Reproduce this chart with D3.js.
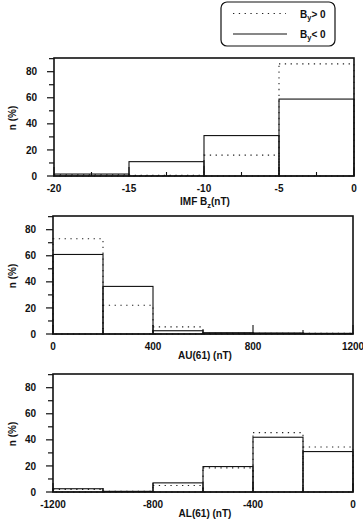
<!DOCTYPE html>
<html>
<head>
<meta charset="utf-8">
<script src="https://cdn.jsdelivr.net/npm/d3@7"></script>
<style>
  body { margin: 0; background: #fff; }
  svg text { font-family: "Liberation Sans", Arial, sans-serif; font-weight: bold; font-size: 10px; fill: #111; }
</style>
</head>
<body>
<div id="chart"></div>
<script>
// histogram data (n %) per bin
var bzEdges = [-20, -15, -10, -5, 0]
var bzPos = [1, 0.5, 16, 86]
var bzNeg = [1.5, 11, 31, 59]
var bzTicks = [-20, -15, -10, -5, 0]

var auEdges = [0, 200, 400, 600, 800, 1000, 1200]
var auPos = [73, 22, 5.5, 0.5, 0.5, 0.5]
var auNeg = [61, 36.5, 2.5, 1, 0.8, 0.5]
var auTicks = [0, 400, 800, 1200]

var alEdges = [-1200, -1000, -800, -600, -400, -200, 0]
var alPos = [2, 0.5, 5, 18.5, 45.5, 34.5]
var alNeg = [2.5, 0.5, 7, 19.5, 42, 31]
var alTicks = [-1200, -800, -400, 0]

var yTicks = [0, 20, 40, 60, 80]

var width = 363, height = 523

var svg = d3.select('#chart').append('svg')
  .attr('width', width)
  .attr('height', height)

// panels
var panels = [
  { edges: bzEdges, pos: bzPos, neg: bzNeg, ticks: bzTicks, minor: 2.5, x0: 54, x1: 354, top: 58, bottom: 176, title: ['IMF B', 'z', '(nT)'] },
  { edges: auEdges, pos: auPos, neg: auNeg, ticks: auTicks, minor: 200, x0: 53, x1: 353, top: 216, bottom: 334, title: ['AU(61) (nT)'] },
  { edges: alEdges, pos: alPos, neg: alNeg, ticks: alTicks, minor: 200, x0: 53, x1: 353, top: 374, bottom: 492, title: ['AL(61) (nT)'] }
]

panels.forEach(function(p) {
  var x = d3.scaleLinear()
    .domain([p.edges[0], p.edges[p.edges.length - 1]])
    .range([p.x0, p.x1])
  var y = d3.scaleLinear().domain([0, 90.5]).range([p.bottom, p.top])
  var g = svg.append('g')

  var bins = p.edges.slice(0, -1).map(function(e, i) { return { a: e, b: p.edges[i + 1], pos: p.pos[i], neg: p.neg[i] } })

  // By > 0 dotted
  g.selectAll('.pos').data(bins).enter().append('rect')
    .attr('x', function(d) { return x(d.a) })
    .attr('width', function(d) { return x(d.b) - x(d.a) })
    .attr('y', function(d) { return y(d.pos) })
    .attr('height', function(d) { return y(0) - y(d.pos) })
    .attr('fill', 'none')
    .attr('stroke', '#222')
    .attr('stroke-width', 1.1)
    .attr('stroke-dasharray', '1.3,4.5')

  // By < 0 solid
  g.selectAll('.neg').data(bins).enter().append('rect')
    .attr('x', function(d) { return x(d.a) })
    .attr('width', function(d) { return x(d.b) - x(d.a) })
    .attr('y', function(d) { return y(d.neg) })
    .attr('height', function(d) { return y(0) - y(d.neg) })
    .attr('fill', 'none')
    .attr('stroke', '#111')
    .attr('stroke-width', 1.1)

  // frame
  g.append('rect')
    .attr('x', p.x0).attr('y', p.top)
    .attr('width', p.x1 - p.x0).attr('height', p.bottom - p.top)
    .attr('fill', 'none').attr('stroke', '#111').attr('stroke-width', 1.6)

  // y ticks, outward
  d3.range(0, 91, 10).forEach(function(v) {
    var major = v % 20 === 0
    g.append('line')
      .attr('x1', p.x0 - (major ? 7 : 5)).attr('x2', p.x0)
      .attr('y1', y(v)).attr('y2', y(v))
      .attr('stroke', '#111').attr('stroke-width', 1.2)
  })
  g.selectAll('.ylab').data(yTicks).enter().append('text')
    .attr('x', p.x0 - 17)
    .attr('y', function(d) { return y(d) + 3.6 })
    .attr('text-anchor', 'end')
    .text(function(d) { return d })

  // x ticks, inward
  var dom = x.domain()
  d3.range(dom[0], dom[1] + 0.001, p.minor).forEach(function(v) {
    var major = p.ticks.indexOf(v) >= 0
    g.append('line')
      .attr('x1', x(v)).attr('x2', x(v))
      .attr('y1', p.bottom).attr('y2', p.bottom - (major ? 9 : 4))
      .attr('stroke', '#111').attr('stroke-width', 1.1)
  })
  g.selectAll('.xlab').data(p.ticks).enter().append('text')
    .attr('x', function(d) { return x(d) })
    .attr('y', p.bottom + 15.5)
    .attr('text-anchor', 'middle')
    .text(function(d) { return d })

  // x title
  var t = g.append('text')
    .attr('x', 205)
    .attr('y', p.bottom + (p.title.length > 1 ? 29 : 24.5))
    .attr('text-anchor', 'middle')
  if (p.title.length > 1) {
    t.append('tspan').text(p.title[0])
    t.append('tspan').attr('dy', 2.5).style('font-size', '7.5px').text(p.title[1])
    t.append('tspan').attr('dy', -2.5).text(p.title[2])
  } else {
    t.text(p.title[0])
  }

  // y title
  g.append('text')
    .attr('transform', 'translate(15.5,' + ((p.top + p.bottom) / 2 + 1) + ') rotate(-90)')
    .attr('text-anchor', 'middle')
    .text('n (%)')
})

// legend
var leg = svg.append('g')
leg.append('rect')
  .attr('x', 221).attr('y', 2).attr('width', 114).attr('height', 44).attr('rx', 6)
  .attr('fill', 'none').attr('stroke', '#111').attr('stroke-width', 1.2)
leg.append('line')
  .attr('x1', 233).attr('x2', 286).attr('y1', 13.5).attr('y2', 13.5)
  .attr('stroke', '#222').attr('stroke-width', 1.1).attr('stroke-dasharray', '1.3,4.5')
leg.append('line')
  .attr('x1', 233).attr('x2', 287).attr('y1', 34).attr('y2', 34)
  .attr('stroke', '#111').attr('stroke-width', 1.1)
var labels = ['> 0', '< 0']
labels.forEach(function(s, i) {
  var t = leg.append('text').attr('x', 300).attr('y', 17.5 + i * 20)
  t.append('tspan').text('B')
  t.append('tspan').attr('dy', 2.5).style('font-size', '7.5px').text('y')
  t.append('tspan').attr('dy', -2.5).text(s)
})
</script>
</body>
</html>
